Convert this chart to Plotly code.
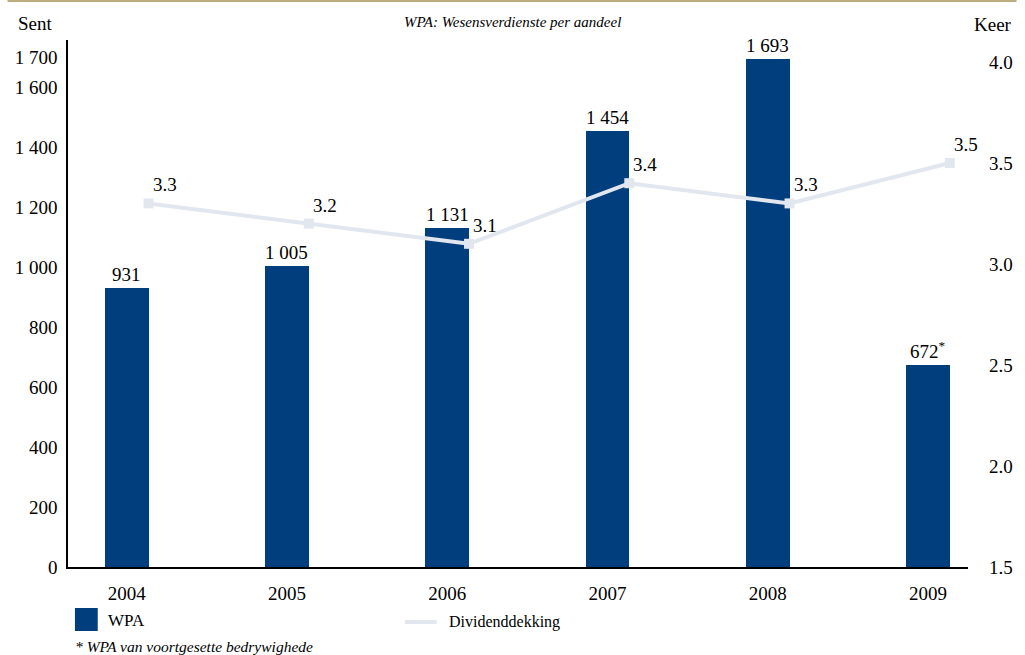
import plotly.graph_objects as go

years = ["2004", "2005", "2006", "2007", "2008", "2009"]
wpa = [931, 1005, 1131, 1454, 1693, 672]
wpa_labels = ["931", "1 005", "1 131", "1 454", "1 693", "672<sup>*</sup>"]
dekking = [3.3, 3.2, 3.1, 3.4, 3.3, 3.5]
left_ticks = [0, 200, 400, 600, 800, 1000, 1200, 1400, 1600, 1700]
left_ticktext = ["0", "200", "400", "600", "800", "1 000", "1 200", "1 400", "1 600", "1 700"]
right_ticks = [1.5, 2.0, 2.5, 3.0, 3.5, 4.0]
right_ticktext = ["1.5", "2.0", "2.5", "3.0", "3.5", "4.0"]

BLUE = "#003e7e"
LINE = "#e2e7ef"
FONT = "Liberation Serif"
W, H = 1025, 655
L, R, T, B = 68, 49, 40, 88
PW, PH = W - L - R, H - T - B

def px(x):
    return (x - L) / PW

def py(y):
    return (H - B - y) / PH

xs = list(range(len(years)))
bar_w = 0.273
line_x = [i + bar_w / 2 for i in xs]

fig = go.Figure()
fig.add_trace(go.Bar(x=xs, y=wpa, width=bar_w, marker=dict(color=BLUE, line=dict(width=0)),
                     name="WPA", yaxis="y", showlegend=False, hoverinfo="y"))
fig.add_trace(go.Scatter(x=line_x, y=dekking, mode="lines+markers", yaxis="y2",
                         line=dict(color=LINE, width=4),
                         marker=dict(symbol="square", size=10, color=LINE),
                         name="Dividenddekking", showlegend=False))

ann = []
for i, (v, t) in enumerate(zip(wpa, wpa_labels)):
    ann.append(dict(x=i, y=v, xref="x", yref="y", text=t, showarrow=False,
                    xanchor="center", yanchor="bottom", yshift=1,
                    font=dict(family=FONT, size=19, color="black")))
for i, v in enumerate(dekking):
    ann.append(dict(x=line_x[i], y=v, xref="x", yref="y2", text=f"{v:.1f}", showarrow=False,
                    xanchor="left", xshift=2, yanchor="bottom", yshift=6,
                    font=dict(family=FONT, size=19, color="black")))

def txt(x, y, text, size, anchor="center"):
    return dict(x=px(x), y=py(y), xref="paper", yref="paper", text=text, showarrow=False,
                xanchor=anchor, yanchor="middle", font=dict(family=FONT, size=size, color="black"))

ann.append(txt(35, 23, "Sent", 19))
ann.append(txt(1001, 24, "Keer", 19))
ann.append(txt(516, 22, "<i>WPA: Wesensverdienste per aandeel</i>", 15))
ann.append(txt(106, 620, "WPA", 17, "left"))
ann.append(txt(450, 622, "Dividenddekking", 16, "left"))
ann.append(txt(73, 646, "<i>* WPA van voortgesette bedrywighede</i>", 15.5, "left"))

shapes = [
    dict(type="rect", xref="paper", yref="paper", x0=px(75), x1=px(98), y0=py(631), y1=py(608),
         fillcolor=BLUE, line=dict(width=0)),
    dict(type="line", xref="paper", yref="paper", x0=px(408), x1=px(440), y0=py(622), y1=py(622),
         line=dict(color=LINE, width=4)),
    dict(type="line", xref="paper", yref="paper", x0=px(7), x1=px(1025), y0=py(1), y1=py(1),
         line=dict(color="#bcad7f", width=2)),
]

fig.update_layout(
    width=W, height=H,
    margin=dict(l=L, r=R, t=T, b=B, pad=0),
    paper_bgcolor="white", plot_bgcolor="white",
    font=dict(family=FONT, size=19, color="black"),
    bargap=0,
    xaxis=dict(range=[-0.366, 5.25], tickvals=xs, ticktext=years, showgrid=False, zeroline=False,
               showline=True, linecolor="black", linewidth=1.5, ticks="", ticklabelstandoff=8,
               tickfont=dict(family=FONT, size=19, color="black"), fixedrange=True),
    yaxis=dict(range=[0, 1757], tickvals=left_ticks, ticktext=left_ticktext, showgrid=False,
               zeroline=False, showline=True, linecolor="black", linewidth=1.5, ticks="",
               ticklabelstandoff=5, tickfont=dict(family=FONT, size=19, color="black")),
    yaxis2=dict(range=[1.5, 4.109], overlaying="y", side="right", tickvals=right_ticks,
                ticktext=right_ticktext, showgrid=False, zeroline=False, showline=False,
                ticks="", ticklabelstandoff=20, tickfont=dict(family=FONT, size=19, color="black")),
    annotations=ann, shapes=shapes, showlegend=False,
)

fig.write_html("out.html")
